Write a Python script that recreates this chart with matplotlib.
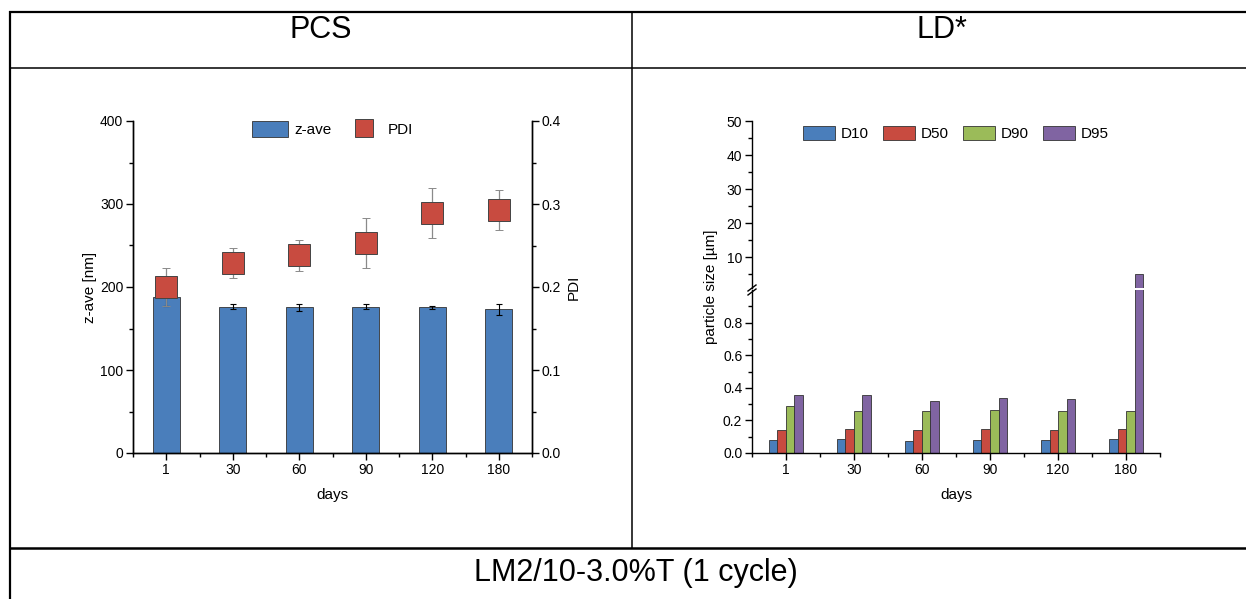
import matplotlib
matplotlib.use("Agg")
import matplotlib.pyplot as plt
import numpy as np
from matplotlib.lines import Line2D
from matplotlib.patches import Patch
from matplotlib.ticker import FormatStrFormatter, FixedLocator

plt.rcParams['font.family'] = ['Liberation Sans', 'DejaVu Sans']

# ---- data ----
days = ["1", "30", "60", "90", "120", "180"]

z_ave = [188, 176.5, 175.5, 176, 175.5, 173]
z_ave_err = [11, 3, 4, 3, 2, 6.5]
pdi = [0.200, 0.229, 0.238, 0.253, 0.289, 0.293]
pdi_err = [0.023, 0.018, 0.019, 0.030, 0.030, 0.024]

ld_names = ["D10", "D50", "D90", "D95"]
d10 = [0.078, 0.084, 0.074, 0.078, 0.082, 0.088]
d50 = [0.142, 0.146, 0.139, 0.146, 0.144, 0.148]
d90 = [0.289, 0.260, 0.258, 0.263, 0.256, 0.258]
d95 = [0.357, 0.357, 0.318, 0.340, 0.334, 5.0]

header_left = "PCS"
header_right = "LD*"
footer = "LM2/10-3.0%T (1 cycle)"

# ---- styles ----
BLUE = "#4a7ebb"
RED = "#c84b40"
GREEN = "#9bbb59"
PURPLE = "#8064a2"
EDGE = "#333333"
ld_colors = [BLUE, RED, GREEN, PURPLE]

W, H = 1246, 599
fig = plt.figure(figsize=(W / 100, H / 100), dpi=100)


def fx(px):
    return px / W


def fy(py):
    return 1 - py / H


def rect(x0, y0, x1, y1):
    return [fx(x0), fy(y1), (x1 - x0) / W, (y1 - y0) / H]


def hline(y, x0, x1, lw):
    fig.add_artist(Line2D([fx(x0), fx(x1)], [fy(y), fy(y)], transform=fig.transFigure,
                          color="black", lw=lw, solid_capstyle="butt"))


def vline(x, y0, y1, lw):
    fig.add_artist(Line2D([fx(x), fx(x)], [fy(y0), fy(y1)], transform=fig.transFigure,
                          color="black", lw=lw, solid_capstyle="butt"))


# ---- table frame ----
hline(12, 9, W, 1.6)
hline(68, 10, W, 1.1)
hline(548, 10, W, 1.8)
vline(10, 11, H, 1.6)
vline(632, 12, 548, 1.1)

fig.text(fx(321), fy(30), header_left, ha="center", va="center", fontsize=22)
fig.text(fx(942), fy(30), header_right, ha="center", va="center", fontsize=22)
fig.text(fx(636), fy(573), footer, ha="center", va="center", fontsize=22)

TICK_FS = 10
LABEL_FS = 11
LEG_FS = 11


def style_ticks(ax):
    ax.tick_params(which="major", direction="out", length=5, width=1.0,
                   labelsize=TICK_FS, pad=2)
    ax.tick_params(which="minor", direction="out", length=3, width=1.0)


x = np.arange(len(days))

# ---- PCS chart ----
ax1 = fig.add_axes(rect(133, 121, 532, 453))
ax1.bar(x, z_ave, width=0.4, color=BLUE, edgecolor=EDGE, linewidth=0.6, zorder=2)
ax1.errorbar(x, z_ave, yerr=z_ave_err, fmt="none", ecolor="black",
             elinewidth=0.8, capsize=2.5, capthick=0.8, zorder=3)
ax1.set_xlim(-0.5, len(days) - 0.5)
ax1.set_ylim(0, 400)
ax1.set_yticks([0, 100, 200, 300, 400])
ax1.yaxis.set_minor_locator(FixedLocator([50, 150, 250, 350]))
ax1.set_xticks(x)
ax1.set_xticklabels(days)
ax1.xaxis.set_minor_locator(FixedLocator(list(np.arange(-0.5, len(days), 1.0))))
ax1.spines["top"].set_visible(False)
for s in ["left", "bottom", "right"]:
    ax1.spines[s].set_linewidth(1.0)
style_ticks(ax1)
ax1.set_ylabel("z-ave [nm]", fontsize=LABEL_FS, labelpad=2)
ax1.set_xlabel("days", fontsize=LABEL_FS, labelpad=8)

ax2 = ax1.twinx()
ax2.errorbar(x, pdi, yerr=pdi_err, fmt="s", ms=15.5, mfc=RED, mec="#444444", mew=0.7,
             ecolor="#8a8a8a", elinewidth=0.9, capsize=3, capthick=0.9, zorder=4)
ax2.set_ylim(0, 0.4)
ax2.set_yticks([0.0, 0.1, 0.2, 0.3, 0.4])
ax2.yaxis.set_minor_locator(FixedLocator([0.05, 0.15, 0.25, 0.35]))
ax2.yaxis.set_major_formatter(FormatStrFormatter("%.1f"))
ax2.spines["top"].set_visible(False)
for s in ["left", "bottom", "right"]:
    ax2.spines[s].set_linewidth(1.0)
style_ticks(ax2)
ax2.set_ylabel("PDI", fontsize=LABEL_FS, labelpad=4)

leg_handles = [Patch(facecolor=BLUE, edgecolor=EDGE, linewidth=0.6),
               Line2D([], [], ls="none", marker="s", ms=12.5, mfc=RED, mec="#444444", mew=0.7)]
ax2.legend(leg_handles, ["z-ave", "PDI"], loc="upper center", bbox_to_anchor=(0.5, 1.04),
           ncol=2, frameon=False, fontsize=LEG_FS, handlelength=2.4, handleheight=1.15,
           handletextpad=0.4, columnspacing=0.9)

# ---- LD chart with broken y axis ----
axU = fig.add_axes(rect(752, 121, 1160, 288))
axL = fig.add_axes(rect(752, 290, 1160, 453))

series = [d10, d50, d90, d95]
bw = 0.125
for i, (vals, col) in enumerate(zip(series, ld_colors)):
    off = (i - 1.5) * bw
    for ax in (axU, axL):
        ax.bar(x + off, vals, width=bw, color=col, edgecolor=EDGE, linewidth=0.6, zorder=2)

for ax in (axU, axL):
    ax.set_xlim(-0.5, len(days) - 0.5)
    ax.spines["top"].set_visible(False)
    ax.spines["right"].set_visible(False)
    for s in ["left", "bottom"]:
        ax.spines[s].set_linewidth(1.0)
    style_ticks(ax)

axU.set_ylim(1, 50)
axU.set_yticks([10, 20, 30, 40, 50])
axU.yaxis.set_minor_locator(FixedLocator([5, 15, 25, 35, 45]))
axU.spines["bottom"].set_visible(False)
axU.tick_params(axis="x", which="both", bottom=False, labelbottom=False)

axL.set_ylim(0, 1.0)
axL.set_yticks([0.0, 0.2, 0.4, 0.6, 0.8])
axL.yaxis.set_minor_locator(FixedLocator([0.1, 0.3, 0.5, 0.7, 0.9]))
axL.yaxis.set_major_formatter(FormatStrFormatter("%.1f"))
axL.set_xticks(x)
axL.set_xticklabels(days)
axL.xaxis.set_minor_locator(FixedLocator(list(np.arange(-0.5, len(days), 1.0))))
axL.set_xlabel("days", fontsize=LABEL_FS, labelpad=8)

fig.text(fx(711), fy(287), "particle size [µm]", rotation=90, ha="center", va="center",
         fontsize=LABEL_FS)

# break marks on the y axis
for dy in (0, 4):
    fig.add_artist(Line2D([fx(748), fx(756)], [fy(291 + dy), fy(285 + dy)],
                          transform=fig.transFigure, color="black", lw=1.0))

ld_handles = [Patch(facecolor=c, edgecolor=EDGE, linewidth=0.6) for c in ld_colors]
axU.legend(ld_handles, ld_names, loc="upper center", bbox_to_anchor=(0.5, 1.055),
           ncol=4, frameon=False, fontsize=LEG_FS, handlelength=2.1, handleheight=1.1,
           handletextpad=0.4, columnspacing=0.9)

fig.savefig("out.png", dpi=100)
